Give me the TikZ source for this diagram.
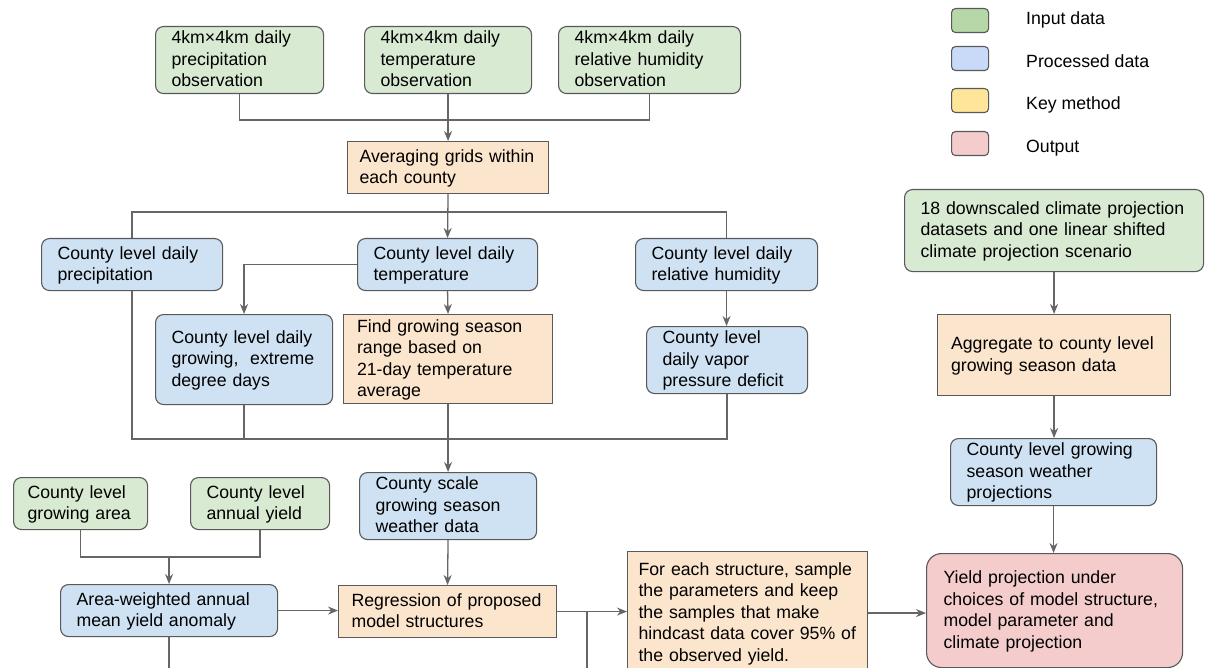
\documentclass[tikz,border=0pt]{standalone}
\usepackage{fontspec}
\setmainfont{Liberation Sans}
\usepackage{tikz}
\usetikzlibrary{arrows.meta}

\definecolor{inputgreen}{HTML}{D9EAD3}
\definecolor{processblue}{HTML}{CFE2F3}
\definecolor{methodorange}{HTML}{FCE5CD}
\definecolor{outputpink}{HTML}{F4CCCC}
\definecolor{keygreen}{HTML}{B6D7A8}
\definecolor{keyblue}{HTML}{C9DAF8}
\definecolor{keyyellow}{HTML}{FFE599}
\definecolor{edgegray}{HTML}{595959}
\definecolor{linkgray}{HTML}{666666}

\newcommand{\boxfont}{\fontsize{17.7pt}{21.5pt}\selectfont}

\begin{document}
\begin{tikzpicture}[
            x=1pt, y=-1pt,
            every node/.style={font=\boxfont},
            flowbox/.style={draw=edgegray, line width=1.1pt, anchor=north west, align=left,
                inner ysep=0pt,
                execute at begin node={\rule{0pt}{16pt}},
                execute at end node={\rule[-5.5pt]{0pt}{5.5pt}}},
            inputbox/.style={flowbox, fill=inputgreen, rounded corners=8pt, inner xsep=16pt},
            processbox/.style={flowbox, fill=processblue, rounded corners=8pt, inner xsep=16pt},
            methodbox/.style={flowbox, fill=methodorange, inner xsep=13.5pt},
            outputbox/.style={flowbox, fill=outputpink, rounded corners=15pt, inner xsep=17pt},
            keybox/.style={draw=edgegray, line width=1.1pt, rounded corners=4pt, anchor=north west,
                minimum width=37pt, minimum height=24pt, inner sep=0pt},
            keytext/.style={anchor=base west, inner sep=0pt},
            link/.style={draw=linkgray, line width=1.3pt},
            arrow/.style={link, -{Stealth[length=10pt, width=8pt]}}
        ]

        \useasboundingbox (0,0) rectangle (1209,668);
        \clip (0,0) rectangle (1209,668);
        \fill[white] (0,0) rectangle (1209,668);

        % Legend
        \node[keybox, fill=keygreen] (keyinput) at (951,8) {};
        \node[keybox, fill=keyblue] (keyprocess) at (951,46) {};
        \node[keybox, fill=keyyellow] (keymethod) at (951,88) {};
        \node[keybox, fill=outputpink] (keyoutput) at (951,131) {};
        \node[keytext] (keyinputtext) at (1026,25) {Input data};
        \node[keytext] (keyprocesstext) at (1026,68) {Processed data};
        \node[keytext] (keymethodtext) at (1026,110) {Key method};
        \node[keytext] (keyoutputtext) at (1026,153) {Output};

        % Gridded observations
        \node[inputbox, text width=136pt, minimum height=67pt] (precipobs) at (155,26) {4km×4km daily\\precipitation\\observation};
        \node[inputbox, text width=135pt, minimum height=67pt] (tempobs) at (364,26) {4km×4km daily\\temperature\\observation};
        \node[inputbox, text width=150pt, minimum height=67pt] (rhobs) at (558,26) {4km×4km daily\\relative humidity\\observation};
        \node[methodbox, inner xsep=12pt, text width=177pt, minimum height=52pt] (averaging) at (347,141) {Averaging grids within\\each county};

        % County level daily weather
        \node[processbox, text width=149pt, minimum height=52pt] (precipday) at (41,238) {County level daily\\precipitation};
        \node[processbox, text width=148pt, minimum height=52pt] (tempday) at (357,238) {County level daily\\temperature};
        \node[processbox, text width=150pt, minimum height=52pt] (rhday) at (635,238) {County level daily\\relative humidity};
        \node[processbox, text width=145pt, minimum height=90pt] (degreedays) at (155,314) {County level daily\\growing,~ extreme\\degree days};
        \node[methodbox, text width=182pt, minimum height=89pt] (findseason) at (343,314) {Find growing season\\range based on\\21-day temperature\\average};
        \node[processbox, text width=129pt, minimum height=67pt] (vpd) at (646,326) {County level\\daily vapor\\pressure deficit};
        \node[processbox, text width=145pt, minimum height=67pt] (countyscale) at (359,472) {County scale\\growing season\\weather data};

        % Yield data and model fitting
        \node[inputbox, inner xsep=14pt, text width=106pt, minimum height=52pt] (growarea) at (13,477) {County level\\growing area};
        \node[inputbox, text width=107pt, minimum height=52pt] (annyield) at (190,477) {County level\\annual yield};
        \node[processbox, text width=185pt, minimum height=52pt] (anomaly) at (60,584) {Area-weighted annual\\mean yield anomaly};
        \node[methodbox, inner xsep=13pt, text width=192pt, minimum height=52pt] (regression) at (338,585) {Regression of proposed\\model structures};
        \node[methodbox, inner xsep=11pt, text width=218pt, minimum height=123pt] (sampling) at (627,551) {For each structure, sample\\the parameters and keep\\the samples that make\\hindcast data cover 95\%~of\\the observed yield.};

        % Climate projections
        \node[inputbox, text width=267pt, minimum height=82pt] (downscaled) at (904,189) {18 downscaled climate projection\\datasets and one linear shifted\\climate projection scenario};
        \node[methodbox, text width=206pt, minimum height=81pt] (aggregate) at (937,314) {Aggregate to county level\\growing season data};
        \node[processbox, text width=174pt, minimum height=67pt] (projections) at (950,438) {County level growing\\season weather\\projections};
        \node[outputbox, text width=222pt, minimum height=114pt] (yieldproj) at (926,553) {Yield projection under\\choices of model structure,\\model parameter and\\climate projection};

        % Connectors
        \coordinate (obsjoin) at (tempobs.south |- 0,120);
        \draw[link] (precipobs.south) |- (obsjoin) -| (rhobs.south);
        \draw[arrow] (tempobs.south) -- (averaging.north);

        \coordinate (dailysplit) at (averaging.south |- 0,212);
        \draw[link] (precipday.north) |- (dailysplit) -| (rhday.north);
        \draw[arrow] (averaging.south) -- (tempday.north);
        \draw[arrow] (tempday.west) -| (degreedays.north);
        \draw[arrow] (tempday.south) -- (findseason.north);
        \draw[arrow] (rhday.south) -- (rhday.south |- vpd.north);

        \coordinate (weathermerge) at (findseason.south |- 0,439);
        \draw[link] (precipday.south) |- (weathermerge) -| (vpd.south);
        \draw[link] (degreedays.south) -- (degreedays.south |- weathermerge);
        \draw[arrow] (findseason.south) -- (countyscale.north);

        \coordinate (yieldjoin) at (anomaly.north |- 0,557);
        \draw[link] (growarea.south) |- (yieldjoin) -| (annyield.south);
        \draw[arrow] (yieldjoin) -- (anomaly.north);
        \draw[arrow] (anomaly.east) -- (anomaly.east -| regression.west);
        \draw[arrow] (countyscale.south) -- (regression.north);
        \draw[link] (anomaly.south) -- ++(0,40);

        \coordinate (fork) at (regression.east -| 587,0);
        \draw[arrow] (regression.east) -- (regression.east -| sampling.west);
        \draw[link] (fork) -- ++(0,80);
        \draw[arrow] (sampling.east) -- (sampling.east -| yieldproj.west);

        \draw[arrow] (downscaled.south) -- (downscaled.south |- aggregate.north);
        \draw[arrow] (aggregate.south) -- (aggregate.south |- projections.north);
        \draw[arrow] (projections.south) -- (projections.south |- yieldproj.north);

        \end{tikzpicture}
\end{document}
